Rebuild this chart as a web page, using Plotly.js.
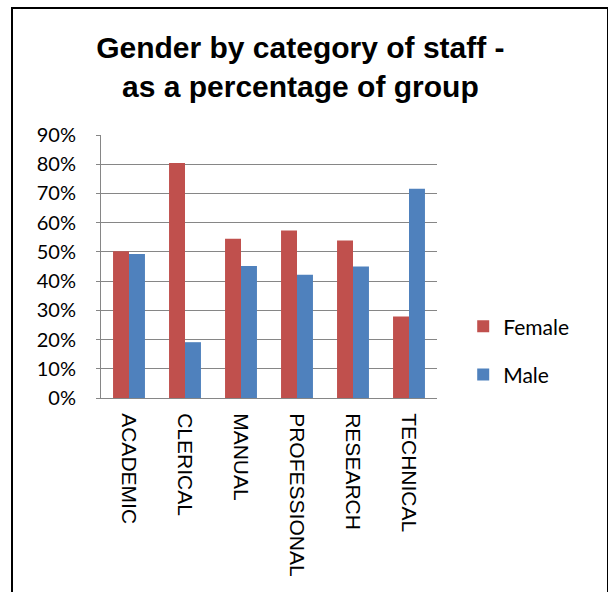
<!DOCTYPE html>
<html>
<head>
<meta charset="utf-8">
<script src="https://cdn.plot.ly/plotly-3.0.1.min.js"></script>
<style>
html,body{margin:0;padding:0;background:#fff;}
#wrap{position:relative;width:608px;height:592px;overflow:hidden;}
#chart{width:608px;height:592px;}
#frame{position:absolute;left:11px;top:7px;width:594px;height:700px;border:2px solid #000;pointer-events:none;}
</style>
</head>
<body>
<div id="wrap"><div id="chart"></div><div id="frame"></div></div>
<script>
const categories = ["ACADEMIC","CLERICAL","MANUAL","PROFESSIONAL","RESEARCH","TECHNICAL"];
const female = [0.502, 0.804, 0.545, 0.573, 0.539, 0.279];
const male = [0.493, 0.191, 0.452, 0.422, 0.450, 0.716];
const yTickVals = [0,0.1,0.2,0.3,0.4,0.5,0.6,0.7,0.8,0.9];
const yTickText = ["0%","10%","20%","30%","40%","50%","60%","70%","80%","90%"];

const traces = [
  {type:'bar', name:'Female', x:categories, y:female, marker:{color:'#C0504D', line:{width:0}}, legendgroup:'f', hoverinfo:'none'},
  {type:'bar', name:'Male', x:categories, y:male, marker:{color:'#4F81BD', line:{width:0}}, legendgroup:'m', hoverinfo:'none'}
];

const layout = {
  width:608, height:592,
  margin:{l:101, r:171, t:135, b:194},
  paper_bgcolor:'#fff', plot_bgcolor:'#fff',
  barmode:'group', bargap:0.43, bargroupgap:0,
  title:{
    text:'<b>Gender by category of staff -<br>as a percentage of group</b>',
    font:{family:'Liberation Sans, Arial, sans-serif', size:30, color:'#000'},
    x:0.494, xref:'container', xanchor:'center',
    y:1-58/592, yref:'container', yanchor:'top'
  },
  xaxis:{
    type:'category', tickangle:90, showgrid:false, zeroline:false,
    showline:true, linecolor:'#868686', linewidth:1,
    ticks:'', tickfont:{family:'Liberation Sans, Arial, sans-serif', size:21, color:'#000'},
    ticklabelstandoff:10
  },
  yaxis:{
    range:[0,0.9], tickvals:yTickVals, ticktext:yTickText,
    showgrid:true, gridcolor:'#868686', gridwidth:1, zeroline:false,
    showline:true, linecolor:'#868686', linewidth:1,
    ticks:'outside', ticklen:4, tickcolor:'#868686',
    tickfont:{family:'Lato, Carlito, Calibri, sans-serif', size:20, color:'#000'},
    ticklabelstandoff:16
  },
  showlegend:true,
  legend:{
    x:1.078, xanchor:'left', y:0.18, yanchor:'middle',
    font:{family:'Lato, Carlito, Calibri, sans-serif', size:21, color:'#000'},
    tracegroupgap:18, bgcolor:'rgba(0,0,0,0)'
  }
};

Plotly.newPlot('chart', traces, layout, {staticPlot:true, displayModeBar:false});
</script>
</body>
</html>
